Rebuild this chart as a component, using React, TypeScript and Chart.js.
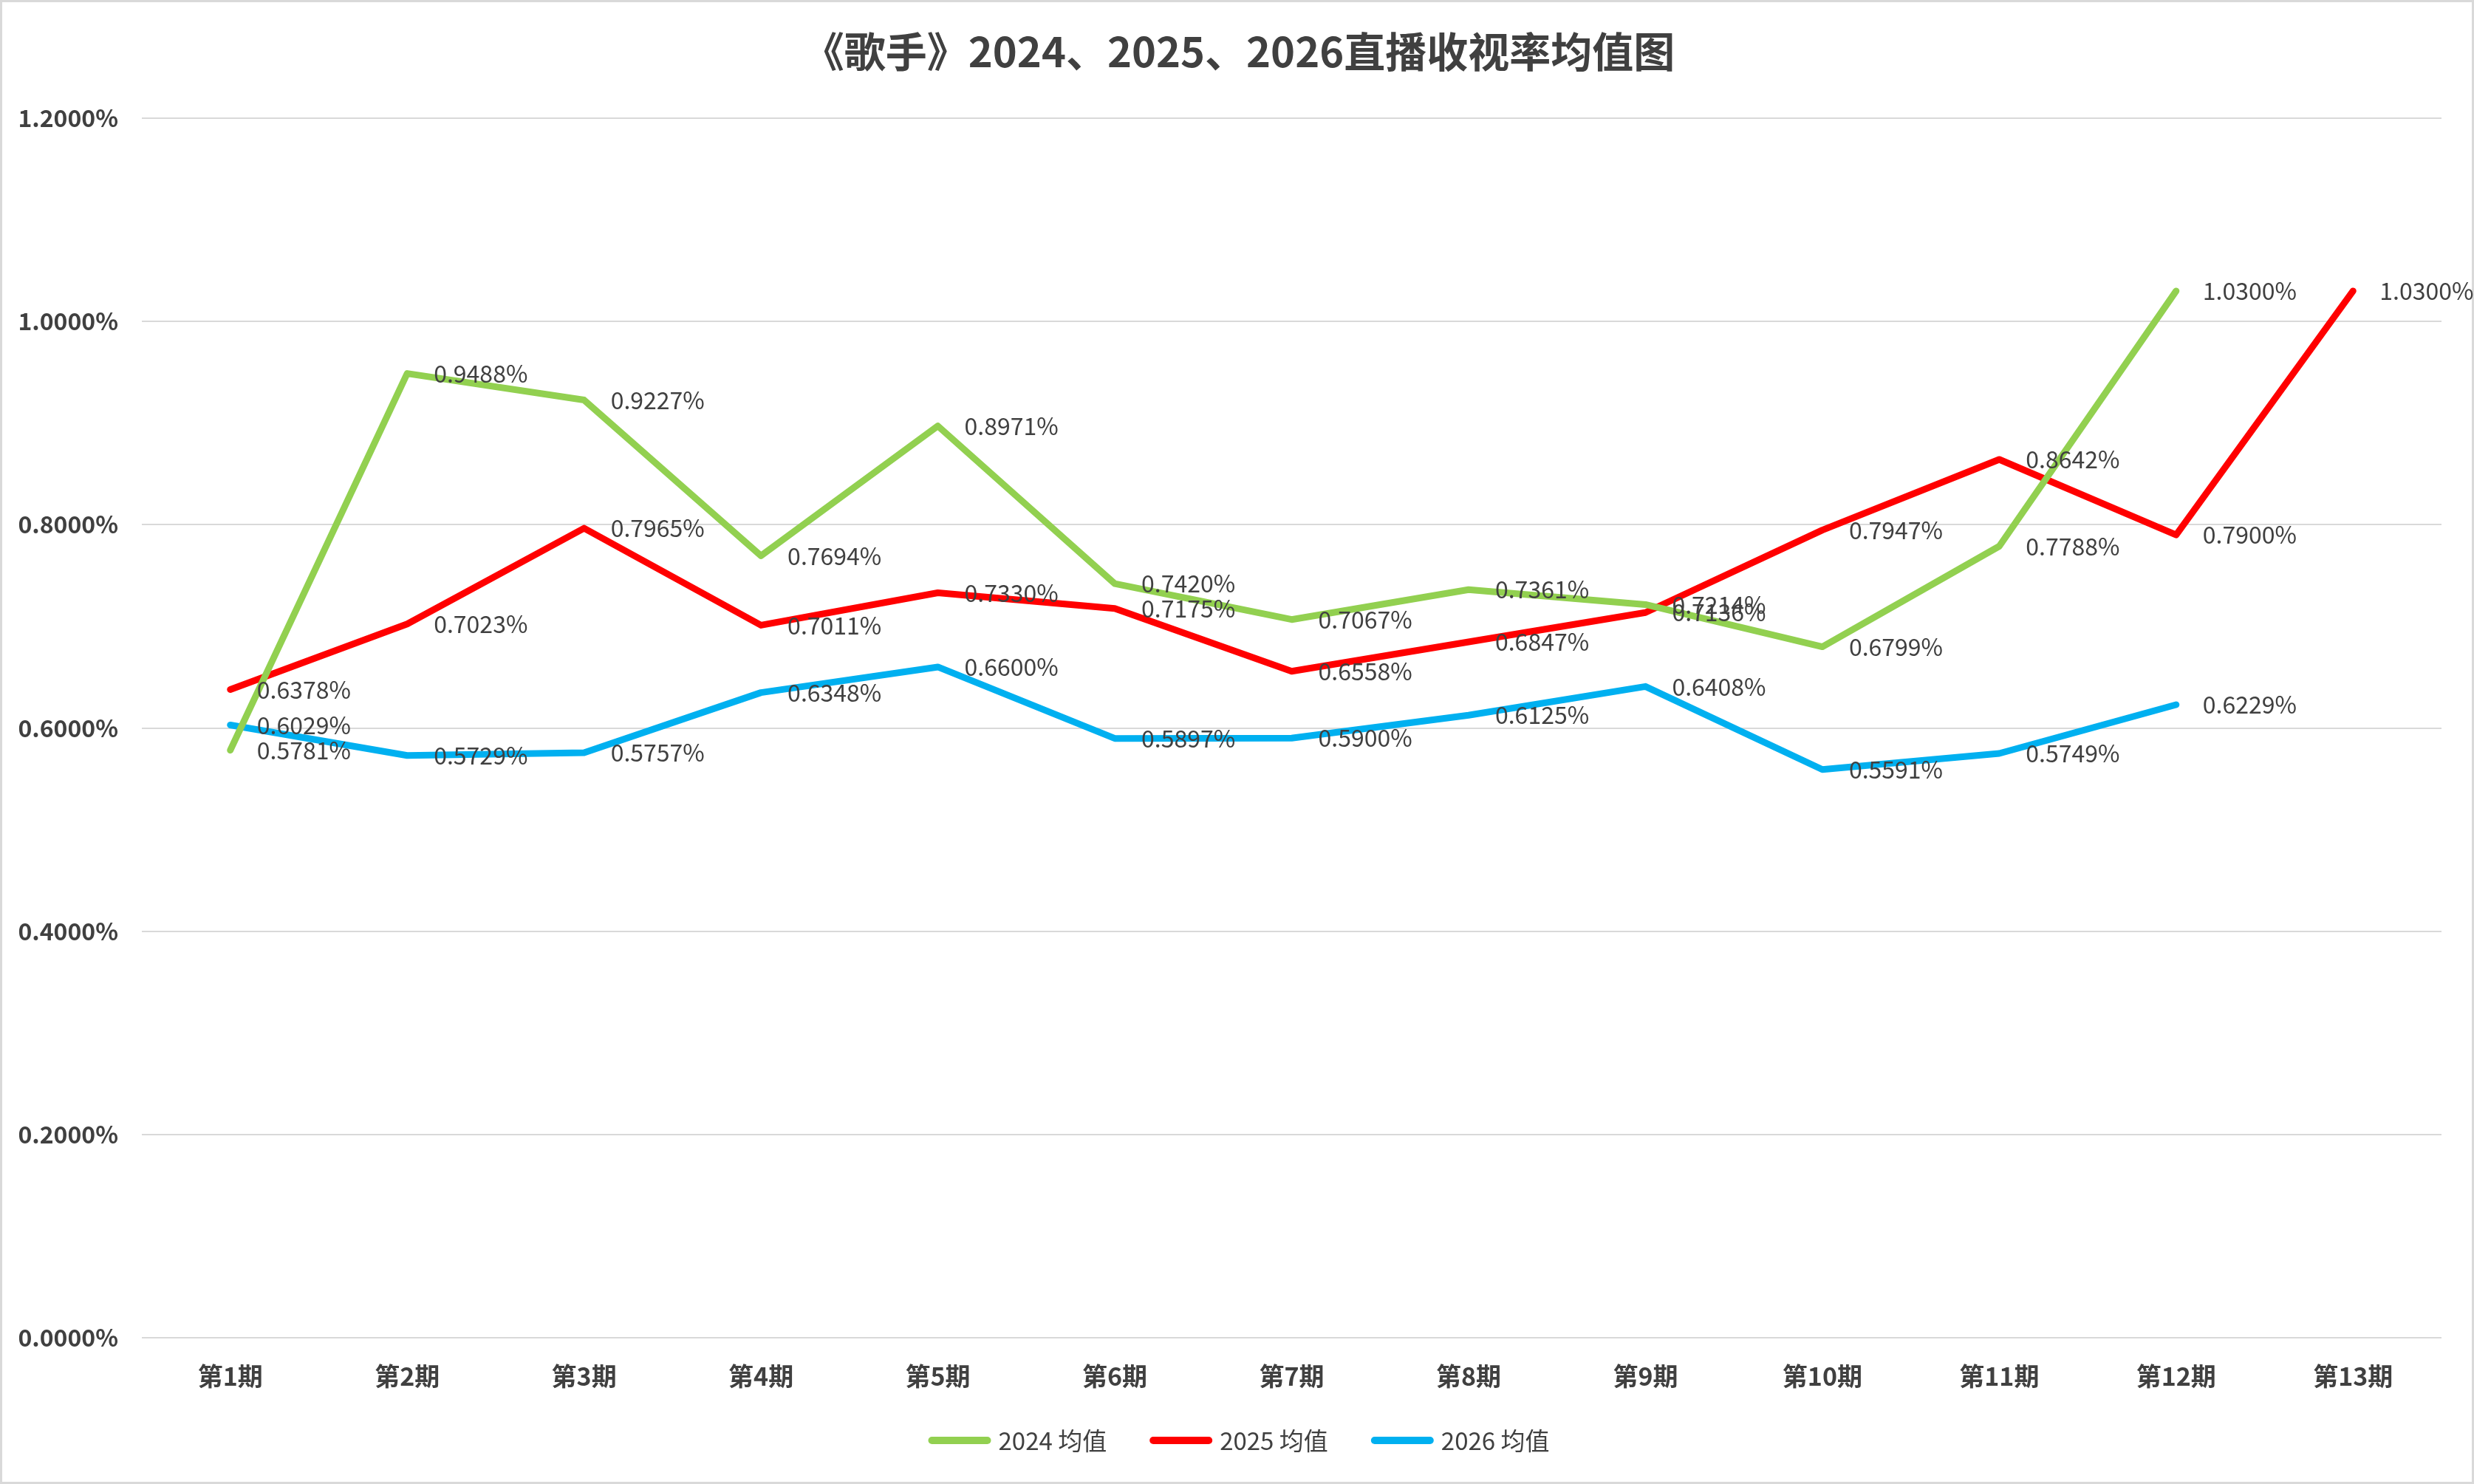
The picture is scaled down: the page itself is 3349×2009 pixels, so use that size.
import React, { useEffect, useRef } from "react";
import { Chart, registerables } from "chart.js";

Chart.register(...registerables);

const categories = ["第1期", "第2期", "第3期", "第4期", "第5期", "第6期", "第7期", "第8期", "第9期", "第10期", "第11期", "第12期", "第13期"];
const avg2024 = [0.5781, 0.9488, 0.9227, 0.7694, 0.8971, 0.742, 0.7067, 0.7361, 0.7214, 0.6799, 0.7788, 1.03, null];
const avg2025 = [0.6378, 0.7023, 0.7965, 0.7011, 0.733, 0.7175, 0.6558, 0.6847, 0.7136, 0.7947, 0.8642, 0.79, 1.03];
const avg2026 = [0.6029, 0.5729, 0.5757, 0.6348, 0.66, 0.5897, 0.59, 0.6125, 0.6408, 0.5591, 0.5749, 0.6229, null];
const seriesNames = ["2024 均值", "2025 均值", "2026 均值"];
const seriesColors = ["#92D050", "#FF0000", "#00B0F0"];
const yTicks = { min: 0, max: 1.2, step: 0.2 };
const titleText = "《歌手》2024、2025、2026直播收视率均值图";

const FONT = '"Noto Sans CJK SC", "Noto Sans", sans-serif';
const TEXT = "#404040";
const W = 3349;
const H = 2009;
const CENTER_X = 1677;

const bgPlugin = {
  id: "bg",
  beforeDraw(chart: any) {
    const ctx = chart.ctx;
    ctx.save();
    ctx.fillStyle = "#ffffff";
    ctx.fillRect(0, 0, chart.width, chart.height);
    ctx.strokeStyle = "#d9d9d9";
    ctx.lineWidth = 3;
    ctx.strokeRect(1.5, 1.5, chart.width - 3, chart.height - 3);
    ctx.restore();
  },
};

const titleLegendPlugin = {
  id: "titleLegend",
  afterDraw(chart: any) {
    const ctx = chart.ctx;
    ctx.save();
    // title
    ctx.font = `bold 56px ${FONT}`;
    ctx.fillStyle = TEXT;
    ctx.textAlign = "center";
    ctx.textBaseline = "middle";
    ctx.fillText(titleText, CENTER_X, 70);
    // legend
    ctx.font = `33px ${FONT}`;
    const lineW = 85;
    const gap = 10;
    const spacing = 58;
    const widths = chart.data.datasets.map((ds: any) => lineW + gap + ctx.measureText(ds.label).width);
    const total = widths.reduce((a: number, b: number) => a + b, 0) + spacing * (widths.length - 1);
    let x = CENTER_X - total / 2;
    const y = 1950;
    chart.data.datasets.forEach((ds: any, i: number) => {
      ctx.strokeStyle = ds.borderColor;
      ctx.lineWidth = 10;
      ctx.lineCap = "round";
      ctx.beginPath();
      ctx.moveTo(x + 5, y);
      ctx.lineTo(x + lineW - 5, y);
      ctx.stroke();
      ctx.fillStyle = TEXT;
      ctx.textAlign = "left";
      ctx.fillText(ds.label, x + lineW + gap, y);
      x += widths[i] + spacing;
    });
    ctx.restore();
  },
};

const valueLabels = {
  id: "valueLabels",
  afterDatasetsDraw(chart: any) {
    const ctx = chart.ctx;
    ctx.save();
    ctx.font = `32px ${FONT}`;
    ctx.fillStyle = TEXT;
    ctx.textAlign = "left";
    ctx.textBaseline = "middle";
    chart.data.datasets.forEach((ds: any, i: number) => {
      const meta = chart.getDatasetMeta(i);
      meta.data.forEach((pt: any, j: number) => {
        const v = ds.data[j];
        if (v === null || v === undefined) return;
        ctx.fillText(Number(v).toFixed(4) + "%", pt.x + 36, pt.y);
      });
    });
    ctx.restore();
  },
};

export default function App() {
  const ref = useRef<HTMLCanvasElement | null>(null);

  useEffect(() => {
    if (!ref.current) return;
    const seriesData = [avg2024, avg2025, avg2026];
    const chart = new Chart(ref.current, {
      type: "line",
      data: {
        labels: categories,
        datasets: seriesData.map((d, i) => ({
          label: seriesNames[i],
          data: d,
          borderColor: seriesColors[i],
          backgroundColor: seriesColors[i],
          borderWidth: 9,
          pointRadius: 0,
          pointHoverRadius: 0,
          tension: 0,
          fill: false,
          spanGaps: false,
          borderCapStyle: "round",
          borderJoinStyle: "round",
        })),
      },
      options: {
        responsive: false,
        devicePixelRatio: 1,
        animation: false,
        events: [],
        layout: { padding: { top: 160, left: 0, right: 44, bottom: 121 } },
        plugins: {
          title: { display: false },
          legend: { display: false },
          tooltip: { enabled: false },
        },
        scales: {
          x: {
            offset: true,
            grid: { display: false, drawTicks: false },
            border: { display: false },
            ticks: {
              color: TEXT,
              padding: 32,
              font: { family: FONT, size: 34, weight: "bold" },
              maxRotation: 0,
              autoSkip: false,
            },
            afterFit: (s: any) => {
              s.height = 77;
            },
          },
          y: {
            min: yTicks.min,
            max: yTicks.max,
            grid: { color: "#d9d9d9", lineWidth: 2, drawTicks: false },
            border: { display: false },
            ticks: {
              stepSize: yTicks.step,
              color: TEXT,
              padding: 32,
              font: { family: FONT, size: 32, weight: "bold" },
              callback: (v: any) => Number(v).toFixed(4) + "%",
            },
            afterFit: (s: any) => {
              s.width = 192;
            },
          },
        },
      },
      plugins: [bgPlugin, valueLabels, titleLegendPlugin],
    } as any);
    return () => chart.destroy();
  }, []);

  return (
    <div style={{ position: "absolute", left: 0, top: 0, width: W, height: H, background: "#fff" }}>
      <canvas ref={ref} width={W} height={H} style={{ display: "block", width: W, height: H }} />
    </div>
  );
}
